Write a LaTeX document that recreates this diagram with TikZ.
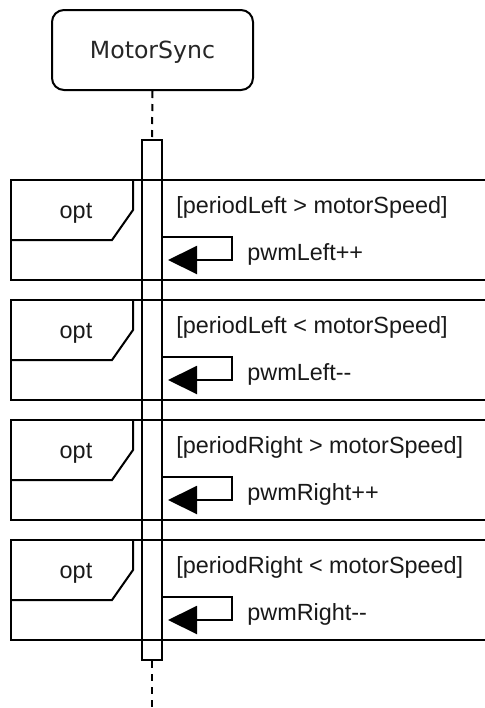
\documentclass[tikz,border=0pt]{standalone}
\usepackage{fontspec}
\setmainfont{Liberation Sans}
\newfontfamily\headfont{DejaVu Sans}
\usetikzlibrary{arrows.meta,positioning}
\tikzset{
  sd head/.style={
    draw,
    line width=1pt,
    rounded corners=6pt,
    minimum width=100.5pt,
    minimum height=40pt,
    text depth=0pt,
    font=\headfont\fontsize{11.8}{14}\selectfont,
    text=black!85
  },
  sd activation/.style={
    draw,
    fill=white,
    line width=1pt,
    minimum width=10pt,
    minimum height=260pt,
    inner sep=0pt
  },
  sd lifeline/.style={
    dash pattern=on 3.5pt off 3pt,
    line width=1pt
  },
  sd frame/.style={
    draw,
    line width=1pt
  },
  sd self/.style={
    -{Triangle[length=14.5pt,width=14pt]},
    line width=1pt,
    shorten >=2.5pt
  },
  sd text/.style={
    inner sep=0pt,
    font=\fontsize{11.7}{14}\selectfont,
    text=black!90
  }
}

\begin{document}
\begin{tikzpicture}[x=0.5pt, y=-0.5pt]
        \useasboundingbox (0,0) rectangle (485,708);
        \clip (0,0) rectangle (485,708);

        \node[sd head] (head) at (152.5,50) {MotorSync};
        \node[sd activation] (act) at (152,400) {};
        \coordinate (end) at (152,708);

        \draw[sd lifeline] (head.south) -- (act.north);
        \draw[sd lifeline] (act.south) -- (end);

        % one opt fragment per speed check
        \foreach \t/\guard/\msg [count=\i] in {
            180/{[periodLeft > motorSpeed]}/pwmLeft++,
            300/{[periodLeft < motorSpeed]}/pwmLeft-\kern0pt-,
            420/{[periodRight > motorSpeed]}/pwmRight++,
            540/{[periodRight < motorSpeed]}/pwmRight-\kern0pt-}
        {
            \draw[sd frame] (11,\t) rectangle (495,\t+100);
            \draw[sd frame] (11,\t+60) -- (112,\t+60) -- (133,\t+30) -- (133,\t);
            \node[sd text,anchor=base] (opt\i) at (76,\t+38) {opt};
            \node[sd text,anchor=base west] (guard\i) at (176,\t+33) {\guard};

            \coordinate (out\i) at (0,\t+57);
            \coordinate (back\i) at (0,\t+80);
            \draw[sd self] (act.east |- out\i) -- (232,\t+57) -- (232,\t+80) -- (act.east |- back\i);
            \node[sd text,anchor=base west] (msg\i) at (247,\t+80.5) {\msg};
        }
      \end{tikzpicture}
\end{document}
